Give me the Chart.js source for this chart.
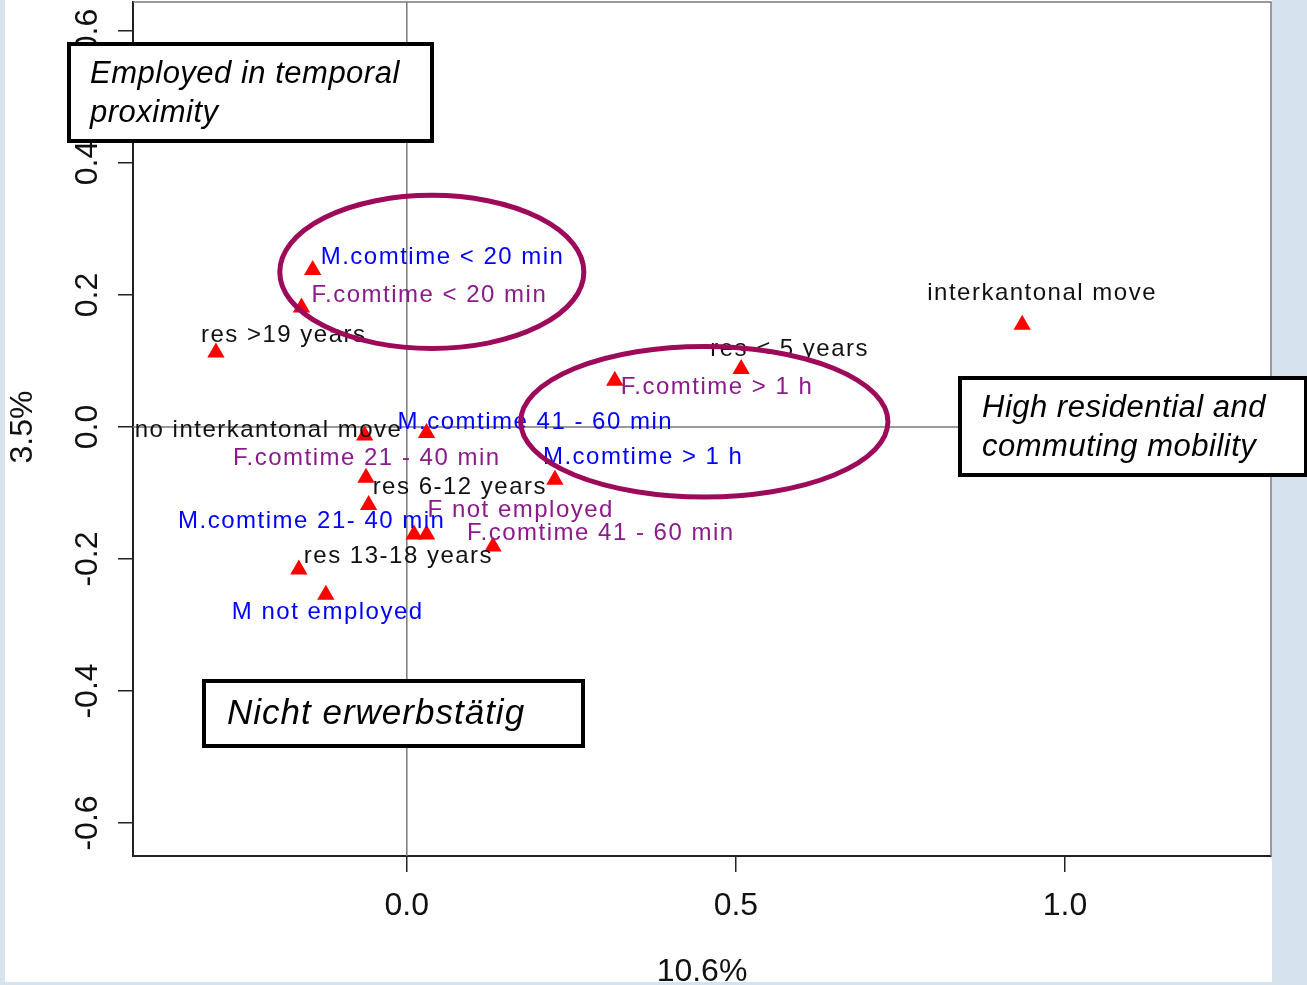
<!DOCTYPE html>
<html>
<head>
<meta charset="utf-8">
<script src="https://cdn.jsdelivr.net/npm/chart.js@4.4.1/dist/chart.umd.min.js"></script>
<style>
  html, body { margin: 0; padding: 0; background: #fff; }
  canvas { display: block; }
</style>
</head>
<body>
<canvas id="grafico" width="1307" height="985"></canvas>
<script>
// categorias y coordenadas (dim 1 = 10.6%, dim 2 = 3.5%)
var categorias = [
    'M.comtime < 20 min', 'F.comtime < 20 min', 'res >19 years', 'no interkantonal move',
    'M.comtime 41 - 60 min', 'F.comtime 21 - 40 min', 'res 6-12 years', 'M.comtime 21- 40 min',
    'F not employed', 'F.comtime 41 - 60 min', 'res 13-18 years', 'M not employed',
    'M.comtime > 1 h', 'F.comtime > 1 h', 'res < 5 years', 'interkantonal move'
];
var dim1 = [-0.143, -0.160, -0.290, -0.064, 0.030, -0.062, -0.058, 0.011,
            0.030, 0.131, -0.164, -0.123, 0.225, 0.316, 0.508, 0.935];
var dim2 = [0.238, 0.181, 0.113, -0.013, -0.009, -0.077, -0.118, -0.163,
            -0.163, -0.181, -0.216, -0.254, -0.080, 0.070, 0.088, 0.155];
// grupo: 'm' = hombres (azul), 'f' = mujeres (morado), 'o' = otros (negro)
var grupo = ['m', 'f', 'o', 'o', 'm', 'f', 'o', 'm', 'f', 'f', 'o', 'm', 'm', 'f', 'o', 'o'];

var ticksX = [0.0, 0.5, 1.0];
var ticksY = [-0.6, -0.4, -0.2, 0.0, 0.2, 0.4, 0.6];
var tituloX = '10.6%';
var tituloY = '3.5%';

// desplazamiento de cada etiqueta respecto a su punto (px)
var desplaz = [[8, -13], [10, -12], [-15, -17], [-230, -5], [-29, -11], [-133, -19], [4, -18], [-236, -13],
               [1, -24], [-26, -13], [5, -13], [-94, 18], [-12, -22], [6, 7], [-31, -20], [-95, -31]];

var colores = { m: '#0000FF', f: '#8B1A8B', o: '#111111' };
var fuente = '"Liberation Sans", Arial, sans-serif';

// elipses en unidades de datos: [cx, cy, rx, ry]
var elipses = [[0.038, 0.235, 0.231, 0.116], [0.452, 0.008, 0.279, 0.114]];

var puntos = [];
for (var i = 0; i < categorias.length; i++) {
    puntos.push({ x: dim1[i], y: dim2[i] });
}

function caja(ctx, x, y, w, h, lineas, tam, esp) {
    ctx.save();
    ctx.fillStyle = '#fff';
    ctx.fillRect(x, y, w, h);
    ctx.strokeStyle = '#000';
    ctx.lineWidth = 4;
    ctx.strokeRect(x, y, w, h);
    ctx.fillStyle = '#000';
    ctx.font = 'italic ' + tam + 'px ' + fuente;
    ctx.letterSpacing = esp + 'px';
    ctx.textBaseline = 'middle';
    ctx.textAlign = 'left';
    for (var k = 0; k < lineas.length; k++) {
        ctx.fillText(lineas[k][0], lineas[k][1], lineas[k][2]);
    }
    ctx.restore();
}

var dibujo = {
    id: 'dibujo',
    beforeDraw: function(chart) {
        var ctx = chart.ctx;
        ctx.save();
        ctx.fillStyle = '#D6E2EE';
        ctx.fillRect(0, 0, chart.width, chart.height);
        ctx.fillStyle = '#fff';
        ctx.fillRect(5, 0, 1267, 982);
        ctx.restore();
    },
    beforeDatasetsDraw: function(chart) {
        var ctx = chart.ctx;
        var a = chart.chartArea;
        var sx = chart.scales.x, sy = chart.scales.y;
        ctx.save();
        ctx.strokeStyle = '#7a7a7a';
        ctx.lineWidth = 1.5;
        var x0 = sx.getPixelForValue(0), y0 = sy.getPixelForValue(0);
        ctx.beginPath();
        ctx.moveTo(x0, a.top); ctx.lineTo(x0, a.bottom);
        ctx.moveTo(a.left, y0); ctx.lineTo(a.right, y0);
        // borde superior y derecho
        ctx.moveTo(a.left, a.top); ctx.lineTo(a.right, a.top); ctx.lineTo(a.right, a.bottom);
        ctx.stroke();
        ctx.restore();
    },
    afterDatasetsDraw: function(chart) {
        var ctx = chart.ctx;
        var sx = chart.scales.x, sy = chart.scales.y;
        var a = chart.chartArea;
        ctx.save();
        // etiquetas
        ctx.font = '24px ' + fuente;
        ctx.letterSpacing = '1.5px';
        ctx.textBaseline = 'middle';
        ctx.textAlign = 'left';
        for (var i = 0; i < categorias.length; i++) {
            var px = sx.getPixelForValue(dim1[i]);
            var py = sy.getPixelForValue(dim2[i]);
            ctx.fillStyle = colores[grupo[i]];
            ctx.fillText(categorias[i], px + desplaz[i][0], py + desplaz[i][1]);
        }
        ctx.letterSpacing = '0px';
        // elipses
        ctx.strokeStyle = '#9E0A5A';
        ctx.lineWidth = 5;
        for (var e = 0; e < elipses.length; e++) {
            var cx = sx.getPixelForValue(elipses[e][0]);
            var cy = sy.getPixelForValue(elipses[e][1]);
            var rx = sx.getPixelForValue(elipses[e][0] + elipses[e][2]) - cx;
            var ry = cy - sy.getPixelForValue(elipses[e][1] + elipses[e][3]);
            ctx.beginPath();
            ctx.ellipse(cx, cy, rx, ry, 0, 0, Math.PI * 2);
            ctx.stroke();
        }
        // etiquetas de los ejes
        ctx.fillStyle = '#111';
        ctx.font = '32px ' + fuente;
        ctx.textAlign = 'center';
        ctx.textBaseline = 'middle';
        for (var t = 0; t < ticksX.length; t++) {
            ctx.fillText(ticksX[t].toFixed(1), sx.getPixelForValue(ticksX[t]), 906);
        }
        ctx.textBaseline = 'alphabetic';
        ctx.fillText(tituloX, (a.left + a.right) / 2, 981);
        for (var u = 0; u < ticksY.length; u++) {
            ctx.save();
            ctx.translate(97, sy.getPixelForValue(ticksY[u]));
            ctx.rotate(-Math.PI / 2);
            ctx.fillText(ticksY[u].toFixed(1), 0, 0);
            ctx.restore();
        }
        ctx.save();
        ctx.translate(32, sy.getPixelForValue(0));
        ctx.rotate(-Math.PI / 2);
        ctx.fillText(tituloY, 0, 0);
        ctx.restore();
        ctx.restore();

        // cuadros de texto
        caja(ctx, 69, 44, 363, 97, [['Employed in temporal', 90, 74], ['proximity', 90, 113]], 31, 0.5);
        caja(ctx, 960, 378, 346, 97, [['High residential and', 982, 408], ['commuting mobility', 982, 447]], 31, 0.5);
        caja(ctx, 204, 681, 379, 65, [['Nicht erwerbstätig', 227, 714]], 35, 1);
    }
};

var ctx = document.getElementById('grafico');
var myChart = new Chart(ctx, {
    type: 'scatter',
    data: {
        datasets: [{
            label: 'categorias',
            data: puntos,
            pointStyle: 'triangle',
            pointRadius: 10,
            pointHoverRadius: 10,
            backgroundColor: '#FF0000',
            borderWidth: 0
        }]
    },
    options: {
        responsive: false,
        animation: false,
        layout: { autoPadding: false, padding: { left: 0, top: 2, right: 36, bottom: 0 } },
        plugins: { legend: { display: false }, tooltip: { enabled: false } },
        scales: {
            x: {
                type: 'linear',
                min: -0.416,
                max: 1.313,
                afterBuildTicks: function(s) { s.ticks = ticksX.map(function(v) { return { value: v }; }); },
                afterFit: function(s) { s.height = 129; },
                ticks: { display: false },
                grid: { display: true, drawOnChartArea: false, drawTicks: true, tickLength: 16, color: '#222', lineWidth: 1.5 },
                border: { display: true, color: '#222', width: 2 }
            },
            y: {
                type: 'linear',
                min: -0.65,
                max: 0.644,
                afterBuildTicks: function(s) { s.ticks = ticksY.map(function(v) { return { value: v }; }); },
                afterFit: function(s) { s.width = 133; },
                ticks: { display: false },
                grid: { display: true, drawOnChartArea: false, drawTicks: true, tickLength: 15, color: '#222', lineWidth: 1.5 },
                border: { display: true, color: '#222', width: 2 }
            }
        }
    },
    plugins: [dibujo]
});
</script>
</body>
</html>
